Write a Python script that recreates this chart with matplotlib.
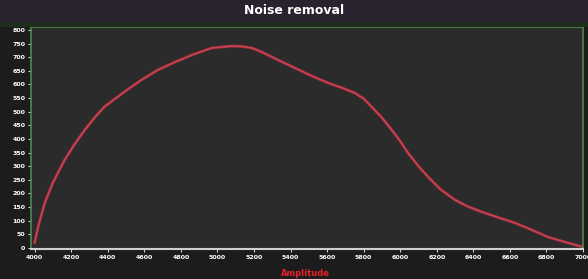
import matplotlib
matplotlib.use("Agg")
import matplotlib.pyplot as plt
from matplotlib.patches import Rectangle

# values
wavelength = [4000, 4020, 4055, 4100, 4164, 4220, 4274, 4330, 4383, 4493, 4580,
              4673, 4770, 4859, 4969, 5078, 5130, 5188, 5240, 5297, 5360, 5423,
              5510, 5604, 5680, 5751, 5800, 5845, 5900, 5954, 6000, 6042, 6100,
              6152, 6220, 6300, 6370, 6447, 6540, 6627, 6720, 6808, 6900, 6994]
signal = [20, 80, 165, 240, 323, 382, 433, 480, 519, 574, 615,
          653, 683, 708, 734, 741, 740, 734, 720, 701, 681, 661,
          633, 606, 588, 569, 548, 517, 478, 433, 392, 349, 300,
          261, 215, 176, 152, 132, 111, 92, 66, 40, 22, 4]
xticks = list(range(4000, 7001, 200))
yticks = list(range(0, 801, 50))

fig = plt.figure(figsize=(5.88, 2.79), dpi=100, facecolor="#1c1c1c")
# title band
fig.patches.append(Rectangle((0, 1 - 22 / 279), 1, 22 / 279, transform=fig.transFigure,
                             facecolor="#28232e", edgecolor="none", zorder=0))
fig.patches.append(Rectangle((0, 1 - 27 / 279), 1, 5 / 279, transform=fig.transFigure,
                             facecolor="#1f2d1f", edgecolor="none", zorder=0))

ax = fig.add_axes([31 / 588, 30 / 279, 552 / 588, 222 / 279])
ax.set_facecolor("#2b2b2b")
ax.plot(wavelength, signal, color="#b3303f", lw=2.0, solid_joinstyle="round")
ax.plot(wavelength, signal, color="#d87078", lw=0.6, alpha=0.5)

ax.set_xlim(3980, 7000)
ax.set_ylim(-4, 811)
ax.set_xticks(xticks)
ax.set_yticks(yticks)
ax.tick_params(colors="white", labelsize=4.5, length=2, width=0.6, pad=2)
for lab in ax.get_xticklabels() + ax.get_yticklabels():
    lab.set_fontweight("bold")

for side in ["left", "top", "right"]:
    ax.spines[side].set_color("#4a8a4a")
    ax.spines[side].set_linewidth(1.2)
ax.spines["bottom"].set_color("#cfcfcf")
ax.spines["bottom"].set_linewidth(1.5)

fig.text(0.5, 1 - 11 / 279, "Noise removal", color="white", fontsize=9,
         fontweight="bold", ha="center", va="center")
fig.text(305 / 588, 1 - 273 / 279, "Amplitude", color="#e8202a", fontsize=6,
         fontweight="bold", ha="center", va="center")

fig.savefig("out.png", dpi=100, facecolor=fig.get_facecolor())
